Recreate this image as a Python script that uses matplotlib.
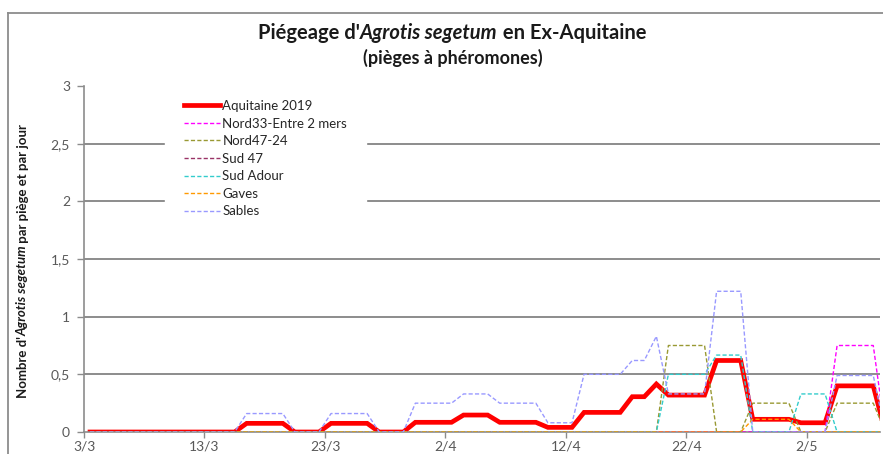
import numpy as np
import matplotlib
matplotlib.use("Agg")
import matplotlib.pyplot as plt
from matplotlib.lines import Line2D

plt.rcParams['font.family'] = ['Lato', 'DejaVu Sans']

# ---- données (une valeur par jour, du 3/3 au 8/5) ----
tick_labels = ["3/3", "13/3", "23/3", "2/4", "12/4", "22/4", "2/5"]
y_labels = ["0", "0,5", "1", "1,5", "2", "2,5", "3"]

aquitaine = [0, 0, 0, 0, 0, 0, 0, 0, 0, 0,
             0, 0, 0, 0.075, 0.075, 0.075, 0.075, 0, 0, 0,
             0.075, 0.075, 0.075, 0.075, 0, 0, 0, 0.084, 0.084, 0.084,
             0.084, 0.147, 0.147, 0.147, 0.084, 0.084, 0.084, 0.084, 0.04, 0.04,
             0.04, 0.17, 0.17, 0.17, 0.17, 0.306, 0.306, 0.416, 0.32, 0.32,
             0.32, 0.32, 0.62, 0.62, 0.62, 0.11, 0.11, 0.11, 0.11, 0.08,
             0.08, 0.08, 0.40, 0.40, 0.40, 0.40, 0]
nord33 = [0] * 62 + [0.75, 0.75, 0.75, 0.75, 0]
nord47 = [0] * 48 + [0.75, 0.75, 0.75, 0.75, 0, 0, 0,
                     0.25, 0.25, 0.25, 0.25, 0, 0, 0,
                     0.25, 0.25, 0.25, 0.25, 0]
sud47 = [0] * 67
sud_adour = [0] * 48 + [0.5, 0.5, 0.5, 0.5, 0.667, 0.667, 0.667,
                        0, 0, 0, 0, 0.33, 0.33, 0.33,
                        0, 0, 0, 0, 0]
gaves = [0] * 55 + [0.11, 0.11, 0.11, 0.11] + [0] * 8
sables = [0, 0, 0, 0, 0, 0, 0, 0, 0, 0,
          0, 0, 0, 0.16, 0.16, 0.16, 0.16, 0, 0, 0,
          0.16, 0.16, 0.16, 0.16, 0, 0, 0, 0.25, 0.25, 0.25,
          0.25, 0.33, 0.33, 0.33, 0.25, 0.25, 0.25, 0.25, 0.08, 0.08,
          0.08, 0.5, 0.5, 0.5, 0.5, 0.62, 0.62, 0.83, 0.33, 0.33,
          0.33, 0.33, 1.22, 1.22, 1.22, 0, 0, 0, 0, 0,
          0, 0, 0.49, 0.49, 0.49, 0.49, 0]

series = [("Nord33-Entre 2 mers", nord33, "#FF00FF"),
          ("Nord47-24", nord47, "#999933"),
          ("Sud 47", sud47, "#993366"),
          ("Sud Adour", sud_adour, "#33CCCC"),
          ("Gaves", gaves, "#FF9900"),
          ("Sables", sables, "#9999FF")]

days = np.arange(len(aquitaine)) + 0.5

fig = plt.figure(figsize=(8.83, 4.54), dpi=100)
ax = fig.add_axes([84 / 883, 22 / 454, 796 / 883, 346 / 454])

for v in [0.5, 1, 1.5, 2, 2.5]:
    ax.axhline(v, color="#8c8c8c", lw=1.4, zorder=1)

ax.plot(days, aquitaine, color="#FF0000", lw=3.4, solid_joinstyle="miter",
        label="Aquitaine 2019", zorder=2)
for name, vals, col in series:
    ax.plot(days, vals, color=col, lw=1.0, dashes=(3, 1.6), label=name, zorder=3)

ax.set_xlim(0, 66.06)
ax.set_ylim(0, 3)
ax.set_xticks(np.arange(0, 61, 10))
ax.set_xticklabels(tick_labels)
ax.set_yticks(np.arange(0, 3.01, 0.5))
ax.set_yticklabels(y_labels)
for s in ["top", "right"]:
    ax.spines[s].set_visible(False)
for s in ["left", "bottom"]:
    ax.spines[s].set_color("#8c8c8c")
    ax.spines[s].set_linewidth(1.2)
ax.tick_params(axis="y", length=5, width=1, color="#8c8c8c", labelcolor="#595959",
               labelsize=10, pad=5)
ax.tick_params(axis="x", length=4, width=1, color="#8c8c8c", labelcolor="#595959",
               labelsize=10, pad=2)

leg = ax.legend(loc="upper left", bbox_to_anchor=(0.1018, 1.013), borderaxespad=0,
                frameon=True, facecolor="white", edgecolor="white", framealpha=1,
                fancybox=False, fontsize=9.5, borderpad=1.4, labelspacing=0.42,
                handlelength=2.75, handletextpad=0.2)
leg.set_zorder(5)
for t in leg.get_texts():
    t.set_color("#262626")

# cadre du graphique (capture recadrée)
fig.add_artist(Line2D([8 / 883, 8 / 883], [0, 1 - 13 / 454], color="#8c8c8c", lw=1.3))
fig.add_artist(Line2D([8 / 883, 1], [1 - 13 / 454, 1 - 13 / 454], color="#8c8c8c", lw=1.3))

renderer = fig.canvas.get_renderer()


def mixed_line(parts, xc, yc, size, vertical=False):
    objs = []
    for s, style in parts:
        t = fig.text(0, 0, s, fontsize=size, fontweight="bold", fontstyle=style,
                     color="#1a1a1a", rotation=90 if vertical else 0,
                     rotation_mode="anchor", ha="left", va="center")
        objs.append(t)
    sizes = []
    for t in objs:
        bb = t.get_window_extent(renderer)
        sizes.append(bb.height if vertical else bb.width)
    total = sum(sizes)
    if vertical:
        pos = yc * fig.bbox.height - total / 2
        for t, sz in zip(objs, sizes):
            t.set_position((xc, pos / fig.bbox.height))
            pos += sz
    else:
        pos = xc * fig.bbox.width - total / 2
        for t, sz in zip(objs, sizes):
            t.set_position((pos / fig.bbox.width, yc))
            pos += sz


mixed_line([("Piégeage d'", "normal"), ("Agrotis segetum", "italic"),
            (" en Ex-Aquitaine", "normal")], 452 / 883, 1 - 33 / 454, 14.5)
fig.text(453 / 883, 1 - 58 / 454, "(pièges à phéromones)", fontsize=13,
         fontweight="bold", color="#1a1a1a", ha="center", va="center")
mixed_line([("Nombre d'", "normal"), ("Agrotis segetum", "italic"),
            (" par piège et par jour", "normal")], 23 / 883, 1 - 261 / 454, 9.5,
           vertical=True)

fig.savefig("out.png", dpi=100)
